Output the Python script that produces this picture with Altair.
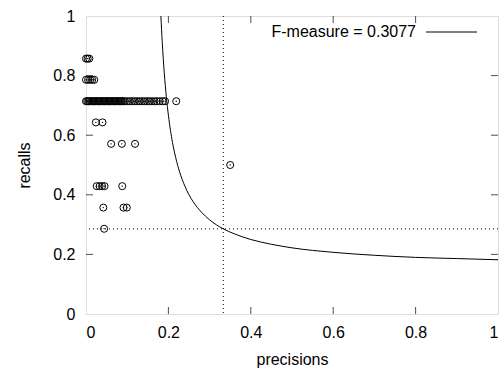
import altair as alt
import pandas as pd

# ---- data ----
F_LABEL = "F-measure = 0.3077"
P_BEST = 0.3333
R_BEST = 0.2857

curve_p = [0.1818, 0.185, 0.19, 0.195, 0.2, 0.21, 0.22, 0.23, 0.24, 0.25, 0.26, 0.27,
           0.28, 0.3, 0.3333, 0.36, 0.4, 0.45, 0.5, 0.6, 0.7, 0.8, 0.9, 1.0]
curve_r = [1.0, 0.914, 0.809, 0.729, 0.667, 0.575, 0.512, 0.465, 0.429, 0.400, 0.377, 0.358,
           0.342, 0.316, 0.2857, 0.269, 0.250, 0.234, 0.222, 0.207, 0.197, 0.190, 0.186, 0.182]

rows_recall = [0.857, 0.786, 0.714, 0.643, 0.571, 0.5, 0.429, 0.357, 0.286]
row_857 = [0.0, 0.004, 0.008]
row_786 = [0.0, 0.005, 0.01, 0.015, 0.02]
row_714 = [0.0, 0.003, 0.006, 0.009, 0.012, 0.015, 0.018, 0.021, 0.024, 0.027, 0.03,
           0.033, 0.036, 0.039, 0.042, 0.045, 0.048, 0.051, 0.054, 0.057, 0.06, 0.063,
           0.066, 0.069, 0.072, 0.075, 0.078, 0.081, 0.084, 0.087, 0.09, 0.094, 0.1,
           0.106, 0.112, 0.118, 0.124, 0.13, 0.136, 0.142, 0.148, 0.154, 0.16, 0.166,
           0.172, 0.179, 0.186, 0.192, 0.219]
row_643 = [0.024, 0.040]
row_571 = [0.061, 0.087, 0.119]
row_500 = [0.350]
row_429 = [0.026, 0.033, 0.039, 0.045, 0.088]
row_357 = [0.042, 0.091, 0.099]
row_286 = [0.044]
row_lists = [row_857, row_786, row_714, row_643, row_571, row_500, row_429, row_357, row_286]

tick_values = [0, 0.2, 0.4, 0.6, 0.8, 1]
inner_ticks = [0.2, 0.4, 0.6, 0.8]

# ---- tables ----
pts = pd.DataFrame([{"p": p, "r": r} for r, lst in zip(rows_recall, row_lists) for p in lst])
curve = pd.DataFrame({"p": curve_p, "r": curve_r})
best_p = pd.DataFrame({"p": [P_BEST]})
best_r = pd.DataFrame({"r": [R_BEST]})
xt = pd.DataFrame({"p": inner_ticks})
yt = pd.DataFrame({"r": inner_ticks})

W, H = 412, 298
FONT = "Liberation Sans"
FS = 16

xscale = alt.Scale(domain=[0, 1], nice=False, zero=False)
yscale = alt.Scale(domain=[0, 1], nice=False, zero=False)
xaxis = alt.Axis(values=tick_values, format="~g", title="precisions", tickSize=0,
                 domain=False, grid=False, labelPadding=10, titlePadding=11,
                 labelFontSize=FS, titleFontSize=FS, labelFont=FONT, titleFont=FONT,
                 labelColor="black", titleColor="black", titleFontWeight="normal")
yaxis = alt.Axis(values=tick_values, format="~g", title="recalls", tickSize=0,
                 domain=False, grid=False, labelPadding=11, titlePadding=20,
                 labelFontSize=FS, titleFontSize=FS, labelFont=FONT, titleFont=FONT,
                 labelColor="black", titleColor="black", titleFontWeight="normal")

def X():
    return alt.X("p:Q", scale=xscale, axis=xaxis)

def Y():
    return alt.Y("r:Q", scale=yscale, axis=yaxis)

line = alt.Chart(curve).mark_line(color="black", strokeWidth=1, clip=True,
                                  interpolate="monotone").encode(x=X(), y=Y())
vline = alt.Chart(best_p).mark_rule(color="black", strokeWidth=1, strokeDash=[1, 3]).encode(x=X())
hline = alt.Chart(best_r).mark_rule(color="black", strokeWidth=1, strokeDash=[1, 3]).encode(y=Y())
circles = alt.Chart(pts).mark_point(shape="circle", filled=False, color="black",
                                    strokeWidth=1, size=50, opacity=1).encode(x=X(), y=Y())
dots = alt.Chart(pts).mark_circle(color="black", size=2, opacity=1).encode(x=X(), y=Y())

xt_top = alt.Chart(xt).mark_tick(color="black", size=7, thickness=1, orient="vertical").encode(
    x=X(), y=alt.value(3.5))
xt_bot = alt.Chart(xt).mark_tick(color="black", size=7, thickness=1, orient="vertical").encode(
    x=X(), y=alt.value(H - 3.5))
yt_left = alt.Chart(yt).mark_tick(color="black", size=7, thickness=1, orient="horizontal").encode(
    y=Y(), x=alt.value(3.5))
yt_right = alt.Chart(yt).mark_tick(color="black", size=7, thickness=1, orient="horizontal").encode(
    y=Y(), x=alt.value(W - 3.5))

key_text = alt.Chart(pd.DataFrame({"t": [F_LABEL]})).mark_text(
    align="right", baseline="middle", font=FONT, fontSize=FS, color="black").encode(
    text="t:N", x=alt.value(330), y=alt.value(16))
key_line = alt.Chart(pd.DataFrame({"t": [F_LABEL]})).mark_rule(color="black", strokeWidth=1).encode(
    x=alt.value(340), x2=alt.value(391), y=alt.value(16))

chart = alt.layer(vline, hline, line, circles, dots, xt_top, xt_bot, yt_left, yt_right,
                  key_text, key_line).properties(
    width=W, height=H,
    autosize=alt.AutoSizeParams(type="none"),
    padding={"left": 86, "top": 16, "right": 5, "bottom": 55},
).configure_view(stroke="black", strokeWidth=1.2).configure(background="white")

chart.save("out.html", embed_options={"renderer": "svg", "actions": False})
